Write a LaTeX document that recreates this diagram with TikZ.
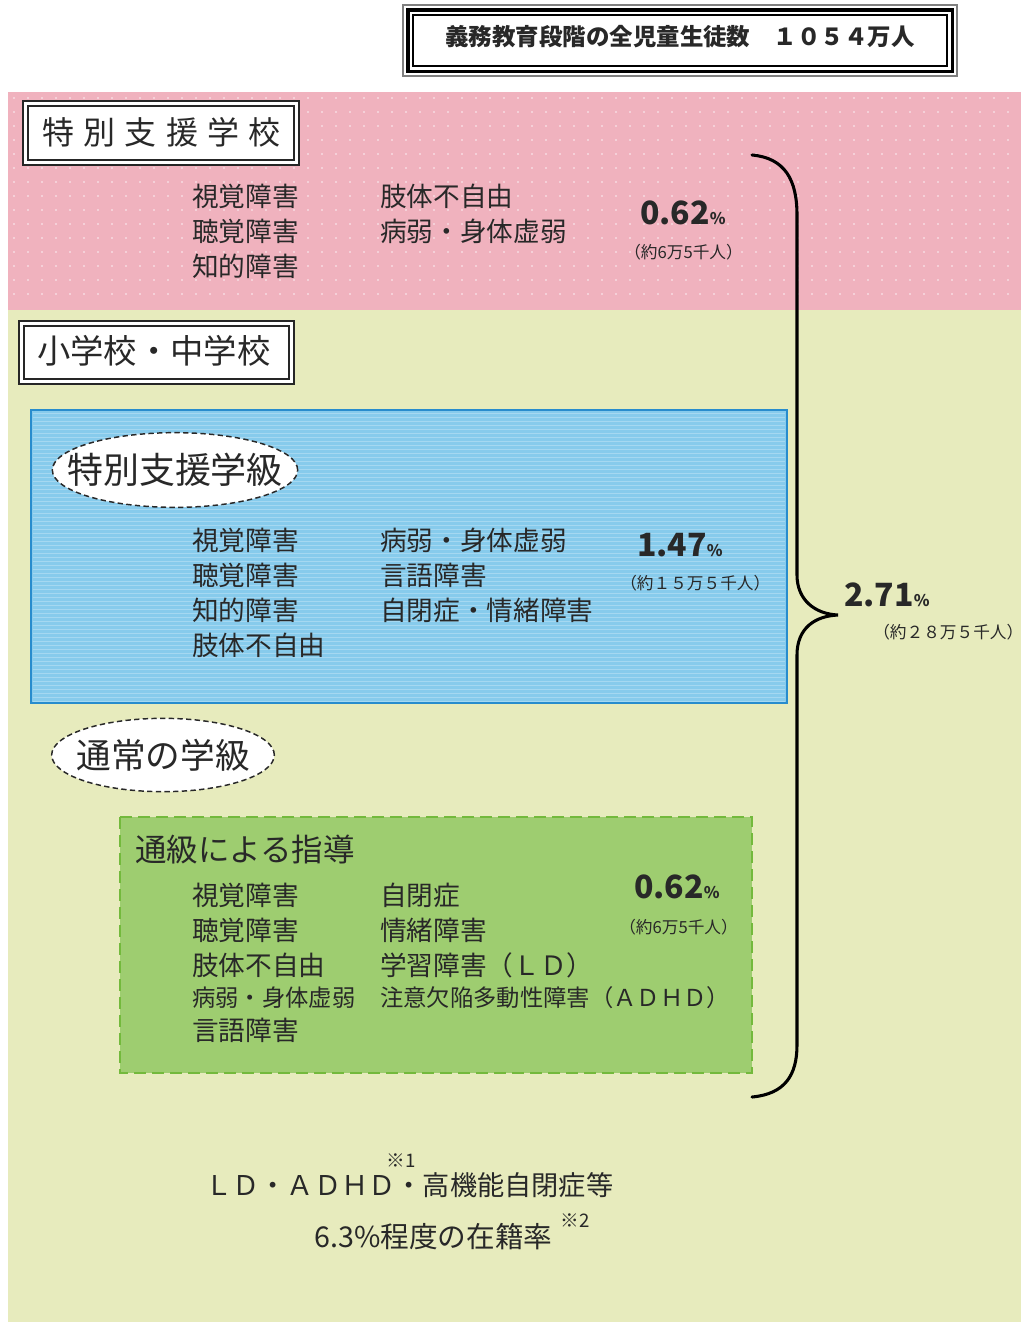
\documentclass[tikz,border=0pt]{standalone}
\usepackage{fontspec}
\setmainfont{Noto Sans CJK JP}
\newfontfamily\cjk{Noto Sans CJK JP}
\usetikzlibrary{shapes.geometric}
\definecolor{pinkbg}{RGB}{240,178,190}
\definecolor{yellowbg}{RGB}{231,235,189}
\definecolor{bluebg}{RGB}{135,203,236}
\definecolor{blueline}{RGB}{40,140,205}
\definecolor{greenbg}{RGB}{158,205,112}
\definecolor{greenline}{RGB}{115,185,60}
\definecolor{ink}{RGB}{40,40,40}
\tikzset{
  item/.style={anchor=west, inner sep=0pt, text=ink, font=\cjk\fontsize{20}{20}\selectfont},
  smallitem/.style={anchor=west, inner sep=0pt, text=ink, font=\cjk\fontsize{17.5}{17.5}\selectfont},
  pct/.style={anchor=west, inner sep=0pt, text=ink, font=\cjk\bfseries\fontsize{24}{24}\selectfont},
  cnt/.style={anchor=west, inner sep=0pt, text=ink, font=\cjk\fontsize{12.5}{12.5}\selectfont},
  heading/.style={anchor=west, inner sep=0pt, text=ink, font=\cjk\fontsize{24}{24}\selectfont},
  bubble/.style={ellipse, draw=ink, fill=white, line width=1.1pt, dash pattern=on 4pt off 2.5pt, inner ysep=0pt, text=ink},
}
\newcommand{\pc}{{\fontsize{12}{12}\selectfont\%}}
\begin{document}
\begin{tikzpicture}[x=0.75pt,y=-0.75pt]
\useasboundingbox (0,0) rectangle (1021,1322);
\fill[white] (0,0) rectangle (1021,1322);
% bands
\fill[pinkbg] (8,92) rectangle (1021,310);
\foreach \xx in {14,28,...,1014} \foreach \yy in {98,112,...,304} \fill[white!55!pinkbg] (\xx,\yy) circle[radius=0.9pt];
\fill[yellowbg] (8,310) rectangle (1021,1322);
% title box
\draw[gray, line width=1.2pt] (403,5) rectangle (957,76);
\draw[black, line width=2.4pt] (408,10) rectangle (952,71);
\fill[white] (409.5,11.5) rectangle (950.5,69.5);
\draw[black, line width=0.8pt] (413,15) rectangle (947,66);
\node[inner sep=0pt, text=ink, font=\cjk\bfseries\fontsize{17.6}{17.6}\selectfont] (title) at (680,37) {義務教育段階の全児童生徒数　１０５４万人};
% special support school box
\fill[white] (22,100) rectangle (300,166);
\draw[black!85, line width=2pt] (23,101) rectangle (299,165);
\draw[black!85, line width=0.8pt] (28,106) rectangle (294,160);
\node[heading] (school) at (42,132) {特\kern7pt 別\kern7pt 支\kern7pt 援\kern7pt 学\kern7pt 校};
\node[item] (a1) at (192,196) {視覚障害};
\node[item] (a2) at (192,231) {聴覚障害};
\node[item] (a3) at (192,266) {知的障害};
\node[item] (a4) at (380,196) {肢体不自由};
\node[item] (a5) at (380,231) {病弱・身体虚弱};
\node[pct] (ap) at (640,213) {0.62\pc};
\node[cnt] (ac) at (624,252) {（約6万5千人）};
% elementary / junior high box
\fill[white] (18,320) rectangle (295,385);
\draw[black!85, line width=2pt] (19,321) rectangle (294,384);
\draw[black!85, line width=0.8pt] (24,326) rectangle (289,379);
\node[heading, font=\cjk\fontsize{25}{25}\selectfont] (elem) at (37,351) {小学校・中学校};
% special support class
\fill[bluebg] (31,410) rectangle (787,703);
\foreach \yy in {413,417,...,701} \draw[white!25!bluebg, line width=0.6pt] (33,\yy) -- (785,\yy);
\draw[blueline, line width=1.8pt] (31,410) rectangle (787,703);
\node[bubble, inner xsep=-16pt, minimum width=184pt, minimum height=56pt, font=\cjk\fontsize{27}{27}\selectfont] (cls) at (175,470) {特別支援学級};
\node[item] (b1) at (192,540) {視覚障害};
\node[item] (b2) at (192,575) {聴覚障害};
\node[item] (b3) at (192,610) {知的障害};
\node[item] (b4) at (192,645) {肢体不自由};
\node[item] (b5) at (380,540) {病弱・身体虚弱};
\node[item] (b6) at (380,575) {言語障害};
\node[item] (b7) at (380,610) {自閉症・情緒障害};
\node[pct] (bp) at (637,545) {1.47\pc};
\node[cnt] (bc) at (620,583) {（約１５万５千人）};
% regular class
\node[bubble, inner xsep=-7pt, minimum width=167pt, minimum height=55pt, font=\cjk\fontsize{26}{26}\selectfont] (reg) at (163,755) {通常の学級};
% resource room box
\fill[greenbg] (120,817) rectangle (752,1073);
\draw[greenline, line width=1.6pt, dash pattern=on 9pt off 4.5pt] (120,817) rectangle (752,1073);
\node[heading, font=\cjk\fontsize{23.6}{23.6}\selectfont] (tsu) at (135,850) {通級による指導};
\node[item] (c1) at (192,895) {視覚障害};
\node[item] (c2) at (192,930) {聴覚障害};
\node[item] (c3) at (192,965) {肢体不自由};
\node[smallitem] (c4) at (192,998) {病弱・身体虚弱};
\node[item] (c5) at (192,1030) {言語障害};
\node[item] (c6) at (380,895) {自閉症};
\node[item] (c7) at (380,930) {情緒障害};
\node[item] (c8) at (380,965) {学習障害（ＬＤ）};
\node[smallitem] (c9) at (380,998) {注意欠陥多動性障害（ＡＤＨＤ）};
\node[pct] (cp) at (634,887) {0.62\pc};
\node[cnt] (cc) at (619,927) {（約6万5千人）};
% brace
\draw[black, line width=2.3pt, line cap=round] (752,155) .. controls (785,158) and (797,180) .. (797,215)
  -- (797,575) .. controls (797,600) and (815,614) .. (838,615)
  .. controls (815,616) and (797,628) .. (797,655)
  -- (797,1045) .. controls (797,1075) and (785,1094) .. (752,1097);
\node[pct] (tp) at (844,595) {2.71\pc};
\node[cnt] (tc) at (873,632) {（約２８万５千人）};
% footnote text
\node[item, font=\cjk\fontsize{20.4}{20.4}\selectfont] (ld) at (205,1185) {ＬＤ・ＡＤＨＤ・高機能自閉症等};
\node[inner sep=0pt, text=ink, font=\cjk\fontsize{14}{14}\selectfont] (n1) at (401,1161) {※1};
\node[item, font=\cjk\fontsize{21.5}{21.5}\selectfont] (rate) at (314,1237) {6.3\%程度の在籍率};
\node[inner sep=0pt, text=ink, font=\cjk\fontsize{14}{14}\selectfont] (n2) at (575,1221) {※2};
\end{tikzpicture}
\end{document}
